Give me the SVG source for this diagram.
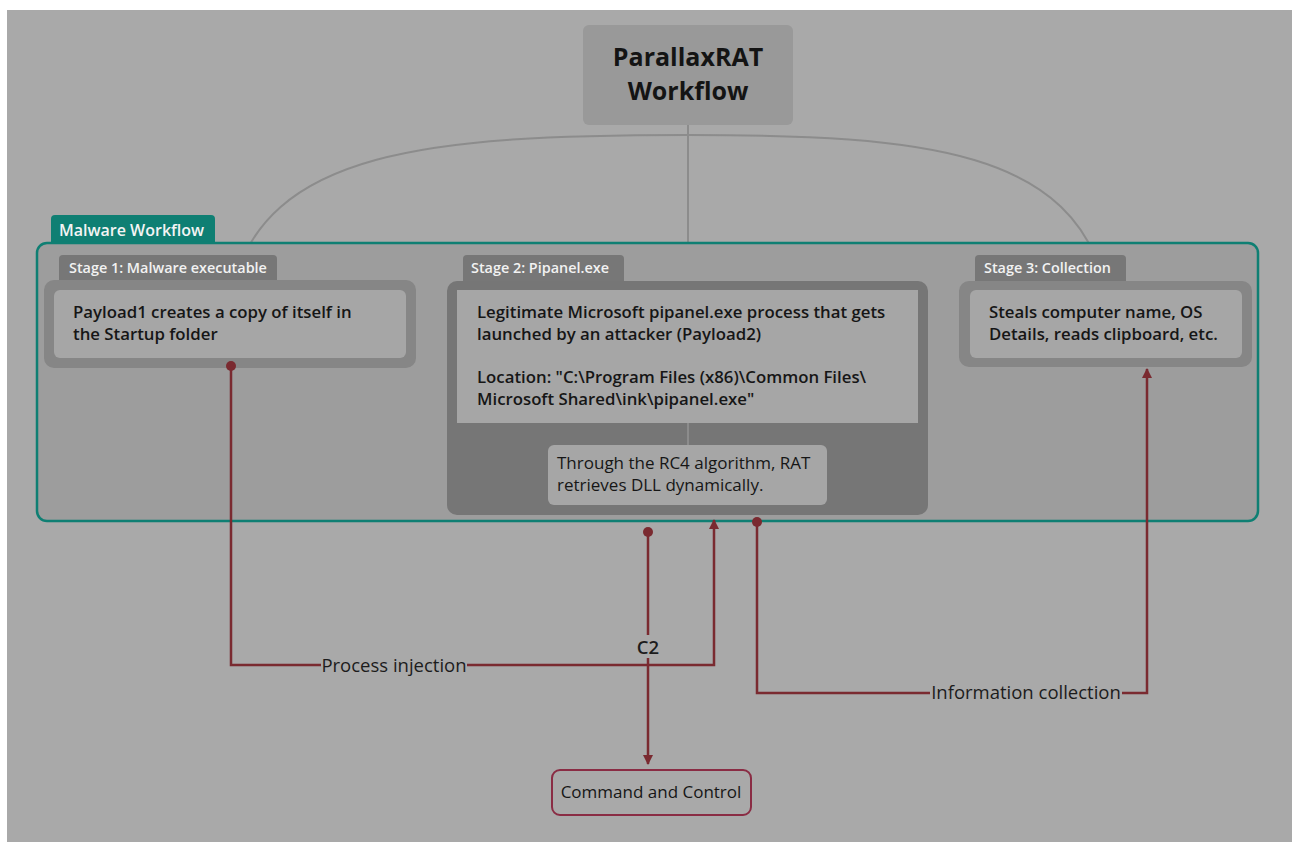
<svg xmlns="http://www.w3.org/2000/svg" width="1292" height="842" viewBox="0 0 1292 842">
<defs>
<style>
.bg{fill:#a9a9a9}
.t{font-family:"Open Sans","Liberation Sans",sans-serif}
.node{font-family:"Open Sans","Liberation Sans",sans-serif;font-size:16.8px;font-weight:600;fill:#161616}
.reg{font-family:"Open Sans","Liberation Sans",sans-serif;font-size:17px;font-weight:400;fill:#161616}
.tab{fill:#777777}
.tabt{font-family:"Open Sans","Liberation Sans",sans-serif;font-size:14.4px;font-weight:600;fill:#f2f2f2}
.outer{fill:#868686}
.inner{fill:#a6a6a6}
.conn{fill:none;stroke:#7a2a30;stroke-width:2.5}
.tree{fill:none;stroke:#8c8c8c;stroke-width:2}
.lbl{font-family:"Open Sans","Liberation Sans",sans-serif;font-size:18.5px;fill:#1c1c1c}
</style>
<marker id="arr" viewBox="0 0 10 10" refX="9" refY="5" markerWidth="4" markerHeight="4" orient="auto">
<path d="M0,0 L10,5 L0,10 z" fill="#7a2a30"/>
</marker>
<marker id="dot" viewBox="0 0 10 10" refX="5" refY="5" markerWidth="4" markerHeight="4">
<circle cx="5" cy="5" r="5" fill="#7a2a30"/>
</marker>
</defs>
<rect x="0" y="0" width="1292" height="842" fill="#ffffff"/>
<rect class="bg" x="7" y="10" width="1285" height="832"/>

<g id="tree-lines">
<path class="tree" d="M688 125 L688 445"/>
<path class="tree" d="M232 290 C265 150 430 135 688 135 C925 135 1075 150 1106 290"/>
</g>

<g id="title">
<rect x="583" y="25" width="210" height="100" rx="6" fill="#999999"/>
<text class="t" x="688" y="66" text-anchor="middle" font-size="25" font-weight="700" fill="#141414">ParallaxRAT</text>
<text class="t" x="688" y="100" text-anchor="middle" font-size="25" font-weight="700" fill="#141414">Workflow</text>
</g>

<g id="malware-workflow">
<rect x="51" y="215" width="164" height="34" rx="4" fill="#0f7f73"/>
<rect x="37" y="243" width="1221" height="278" rx="10" fill="#9d9d9d" stroke="#0f7f73" stroke-width="2.5"/>
<text class="t" x="59" y="236" font-size="16" font-weight="600" fill="#f4f4f4">Malware Workflow</text>
</g>

<g id="stage1">
<rect class="tab" x="59" y="255" width="218" height="30" rx="4"/>
<text class="tabt" x="69" y="273">Stage 1: Malware executable</text>
<rect class="outer" x="44" y="280" width="372" height="88" rx="10"/>
<rect class="inner" x="54" y="290" width="352" height="68" rx="6"/>
<text class="node" x="73" y="318">Payload1 creates a copy of itself in</text>
<text class="node" x="73" y="340">the Startup folder</text>
</g>

<g id="stage2">
<rect class="tab" x="463" y="255" width="161" height="30" rx="4"/>
<text class="tabt" x="471" y="273">Stage 2: Pipanel.exe</text>
<rect x="447" y="281" width="481" height="234" rx="10" fill="#767676"/>
<path class="tree" d="M688 423 L688 445"/>
<rect class="inner" x="457" y="290" width="461" height="133"/>
<text class="node" x="477" y="318">Legitimate Microsoft pipanel.exe process that gets</text>
<text class="node" x="477" y="340">launched by an attacker (Payload2)</text>
<text class="node" x="477" y="383">Location: "C:\Program Files (x86)\Common Files\</text>
<text class="node" x="477" y="405">Microsoft Shared\ink\pipanel.exe"</text>
</g>

<g id="rc4">
<rect class="inner" x="548" y="445" width="279" height="60" rx="6"/>
<text class="reg" x="557" y="469">Through the RC4 algorithm, RAT</text>
<text class="reg" x="557" y="491">retrieves DLL dynamically.</text>
</g>

<g id="stage3">
<rect class="tab" x="975" y="255" width="151" height="30" rx="4"/>
<text class="tabt" x="984" y="273">Stage 3: Collection</text>
<rect class="outer" x="959" y="281" width="293" height="86" rx="10"/>
<rect class="inner" x="970" y="290" width="272" height="68" rx="6"/>
<text class="node" x="989" y="318">Steals computer name, OS</text>
<text class="node" x="989" y="340">Details, reads clipboard, etc.</text>
</g>

<g id="cnc">
<rect x="552" y="770" width="199" height="45" rx="8" fill="#a9a9a9" stroke="#8a2c44" stroke-width="2"/>
<text class="reg" x="651" y="798" text-anchor="middle" font-size="16.8">Command and Control</text>
</g>

<g id="connectors">
<path class="conn" d="M231 366 L231 665 L714 665 L714 520" marker-start="url(#dot)" marker-end="url(#arr)"/>
<rect class="bg" x="321" y="654" width="146" height="24"/>
<text class="lbl" x="394" y="672" text-anchor="middle">Process injection</text>
<path class="conn" d="M648 532 L648 764" marker-start="url(#dot)" marker-end="url(#arr)"/>
<rect class="bg" x="634" y="635" width="28" height="23"/>
<text class="lbl" x="648" y="654" text-anchor="middle" font-weight="600">C2</text>
<path class="conn" d="M757 522 L757 693 L1147 693 L1147 369" marker-start="url(#dot)" marker-end="url(#arr)"/>
<rect class="bg" x="930" y="681" width="192" height="24"/>
<text class="lbl" x="1026" y="699" text-anchor="middle">Information collection</text>
</g>
</svg>
